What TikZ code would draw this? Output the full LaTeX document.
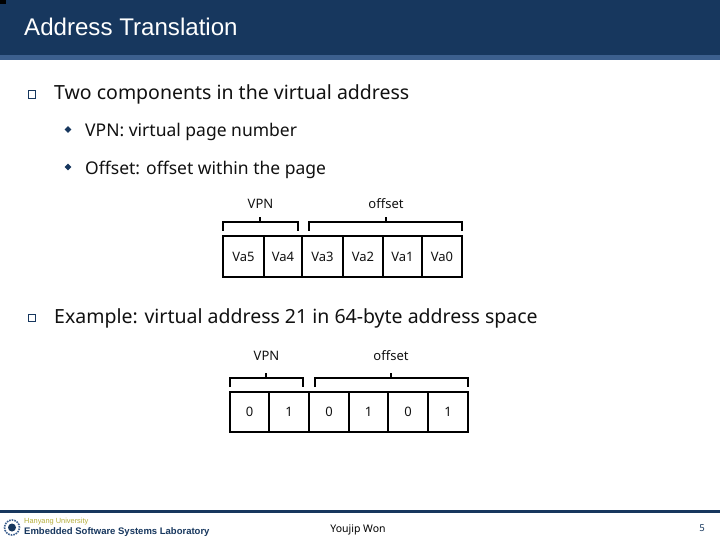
\documentclass[tikz,border=0pt]{standalone}
\usepackage{fontspec}
\setmainfont{Noto Sans}
\newfontfamily\arialf{Liberation Sans}
\definecolor{hdr}{HTML}{17375E}
\definecolor{hdrb}{HTML}{3C5F8E}
\definecolor{txt}{HTML}{111111}
\definecolor{hyc}{HTML}{B5AE3C}
\tikzset{
 cell/.style={draw=black,line width=1.5pt,outer sep=0pt,minimum height=41pt,inner sep=0pt,anchor=north west,font=\fontsize{13}{15}\selectfont,text=txt},
 brack/.style={draw=black,line width=1.5pt},
 lab/.style={inner sep=0pt,font=\fontsize{13}{15}\selectfont,text=txt},
 lone/.style={inner sep=0pt,anchor=west,font=\fontsize{19.5}{22}\selectfont,text=txt},
 ltwo/.style={inner sep=0pt,anchor=west,font=\fontsize{17.5}{20}\selectfont,text=txt},
 sqb/.style={draw=hdr,line width=1.2pt,fill=white,minimum size=7.5pt,inner sep=0pt},
 dia/.style={fill=hdr,minimum size=4.6pt,inner sep=0pt,rotate=45}
}
\begin{document}
\begin{tikzpicture}[x=1pt,y=-1pt]
\useasboundingbox (0,0) rectangle (720,540);
\fill[white] (0,0) rectangle (720,540);
\fill[hdr] (0,0) rectangle (720,55);
\fill[hdrb] (0,55) rectangle (720,60);
\fill[black] (0,0) rectangle (6,4);
\node[inner sep=0pt,anchor=west,text=white,font=\arialf\fontsize{24.1}{27}\selectfont] (title) at (24,27) {Address Translation};
\node[sqb] (b1) at (32,94.5) {};
\node[lone] (t1) at (54,94.5) {Two components in the virtual address};
\node[dia] (d1) at (68,129.5) {};
\node[ltwo] (t2) at (85,131.5) {VPN: virtual page number};
\node[dia] (d2) at (68,167) {};
\node[ltwo] (t3) at (85,170) {Offset: offset within the page};
\node[sqb] (b2) at (32,318) {};
\node[lone] (t4) at (54,318.5) {Example: virtual address 21 in 64-byte address space};
% first row
\node[cell,minimum width=41pt] (a5) at (223,236) {Va5};
\node[cell,minimum width=38pt] (a4) at (264,236) {Va4};
\node[cell,minimum width=41pt] (a3) at (302,236) {Va3};
\node[cell,minimum width=40pt] (a2) at (343,236) {Va2};
\node[cell,minimum width=39pt] (a1) at (383,236) {Va1};
\node[cell,minimum width=40pt] (a0) at (422,236) {Va0};
\coordinate (vl) at (223,231); \coordinate (vr) at (298,231);
\coordinate (ol) at (309,231); \coordinate (or) at (462,231);
\draw[brack] (vl) -- (223,222) -- (298,222) -- (vr);
\draw[brack] (ol) -- (309,222) -- (462,222) -- (or);
\draw[brack] (260,222) -- (260,217);
\draw[brack] (386,222) -- (386,217);
\node[lab] (lv) at (260.5,204) {VPN};
\node[lab] (lo) at (386,204) {offset};
% second row
\node[cell,minimum width=39pt,minimum height=40pt] (c0) at (230,392) {0};
\node[cell,minimum width=40pt,minimum height=40pt] (c1) at (269,392) {1};
\node[cell,minimum width=40pt,minimum height=40pt] (c2) at (309,392) {0};
\node[cell,minimum width=39pt,minimum height=40pt] (c3) at (349,392) {1};
\node[cell,minimum width=40pt,minimum height=40pt] (c4) at (388,392) {0};
\node[cell,minimum width=40pt,minimum height=40pt] (c5) at (428,392) {1};
\coordinate (wl) at (230,387); \coordinate (wr) at (303,387);
\coordinate (pl) at (315,387); \coordinate (pr) at (468,387);
\draw[brack] (wl) -- (230,378) -- (303,378) -- (wr);
\draw[brack] (pl) -- (315,378) -- (468,378) -- (pr);
\draw[brack] (266,378) -- (266,373);
\draw[brack] (391,378) -- (391,373);
\node[lab] (mv) at (266.5,356) {VPN};
\node[lab] (mo) at (391,356) {offset};
% footer
\fill[hdr] (0,510) rectangle (720,513);
\draw[hdrb,line width=1.6pt,densely dotted] (12,527.5) circle (7.5pt);
\fill[hdr] (12,527.5) circle (4pt);
\node[inner sep=0pt,anchor=west,text=hyc,font=\arialf\fontsize{7.4}{9}\selectfont] (hy) at (24,521.5) {Hanyang University};
\node[inner sep=0pt,anchor=west,text=hdr,font=\arialf\bfseries\fontsize{9.5}{11}\selectfont] (esl) at (24,532.5) {Embedded Software Systems Laboratory};
\node[inner sep=0pt,text=black,font=\fontsize{10.5}{12}\selectfont] (yw) at (358,529.5) {Youjip Won};
\node[inner sep=0pt,text=hdr,font=\fontsize{9.5}{11}\selectfont] (pg) at (702,528) {5};
\end{tikzpicture}
\end{document}
